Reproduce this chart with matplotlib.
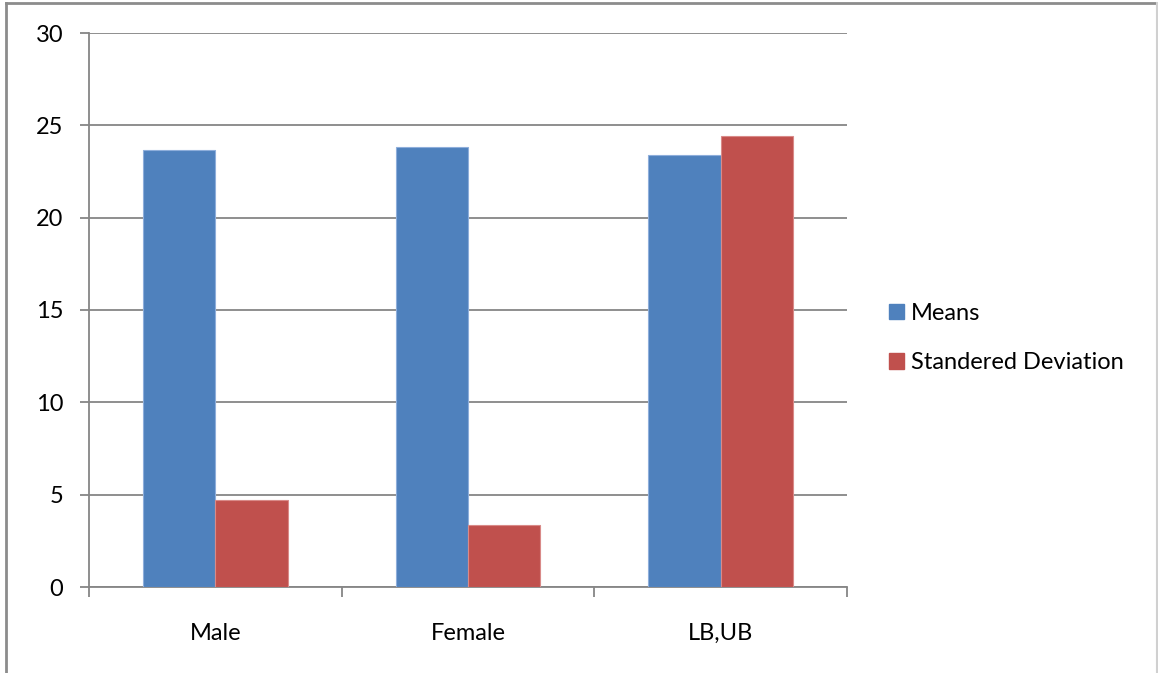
import matplotlib
matplotlib.use("Agg")
import matplotlib.pyplot as plt
import numpy as np
from matplotlib.lines import Line2D
from matplotlib.patches import Patch

categories = ["Male", "Female", "LB,UB"]
means = [23.65, 23.84, 23.38]
std_devs = [4.7, 3.35, 24.4]
y_ticks = [0, 5, 10, 15, 20, 25, 30]

plt.rcParams["font.family"] = ["Lato", "DejaVu Sans"]

W, H = 1158, 673
fig = plt.figure(figsize=(W / 100, H / 100), dpi=100)
ax = fig.add_axes([89 / W, 1 - 587 / H, (847 - 89) / W, (587 - 33) / H])

grid_col = "#868686"
blue = "#4F81BD"
red = "#C0504D"
fs = 17

x = np.arange(len(categories))
bw = 1 / 3.5
ax.bar(x - bw / 2, means, width=bw, color=blue, edgecolor="#8EAEDB", linewidth=0.8, zorder=3)
ax.bar(x + bw / 2, std_devs, width=bw, color=red, edgecolor="#D98A88", linewidth=0.8, zorder=3)

ax.set_xlim(-0.5, len(categories) - 0.5)
ax.set_ylim(0, 30)
ax.set_yticks(y_ticks)
ax.set_yticklabels([str(v) for v in y_ticks], fontsize=fs)
ax.yaxis.grid(True, color=grid_col, linewidth=1.3, zorder=0)
ax.set_axisbelow(True)

# category ticks sit on the boundaries; labels are centered on groups
ax.set_xticks(np.arange(-0.5, len(categories), 1.0))
ax.set_xticklabels([])
ax.set_xticks(x, minor=True)
ax.set_xticklabels(categories, minor=True, fontsize=fs)
ax.tick_params(axis="x", which="minor", length=0, pad=26)
ax.tick_params(axis="x", which="major", length=7, width=1.3, color=grid_col, direction="out")
ax.tick_params(axis="y", length=6.5, width=1.3, color=grid_col, pad=12)

for s in ["top", "right"]:
    ax.spines[s].set_visible(False)
for s in ["left", "bottom"]:
    ax.spines[s].set_color(grid_col)
    ax.spines[s].set_linewidth(1.3)

handles = [Patch(facecolor=blue, edgecolor=blue), Patch(facecolor=red, edgecolor=red)]
fig.legend(handles, ["Means", "Standered Deviation"], loc="center left",
           bbox_to_anchor=(868 / W, 1 - 338 / H), frameon=False, fontsize=fs,
           handlelength=0.62, handleheight=0.62, handletextpad=0.3, labelspacing=1.2)

# outer chart border
fig.add_artist(Line2D([6 / W, 6 / W], [0, 1 - 3 / H], transform=fig.transFigure, color="#8C8C8C", linewidth=2))
fig.add_artist(Line2D([6 / W, 1157 / W], [1 - 3 / H, 1 - 3 / H], transform=fig.transFigure, color="#8C8C8C", linewidth=2))
fig.add_artist(Line2D([1157 / W, 1157 / W], [0, 1 - 3 / H], transform=fig.transFigure, color="#D0D0D0", linewidth=1.5))

fig.savefig("out.png", dpi=100)
